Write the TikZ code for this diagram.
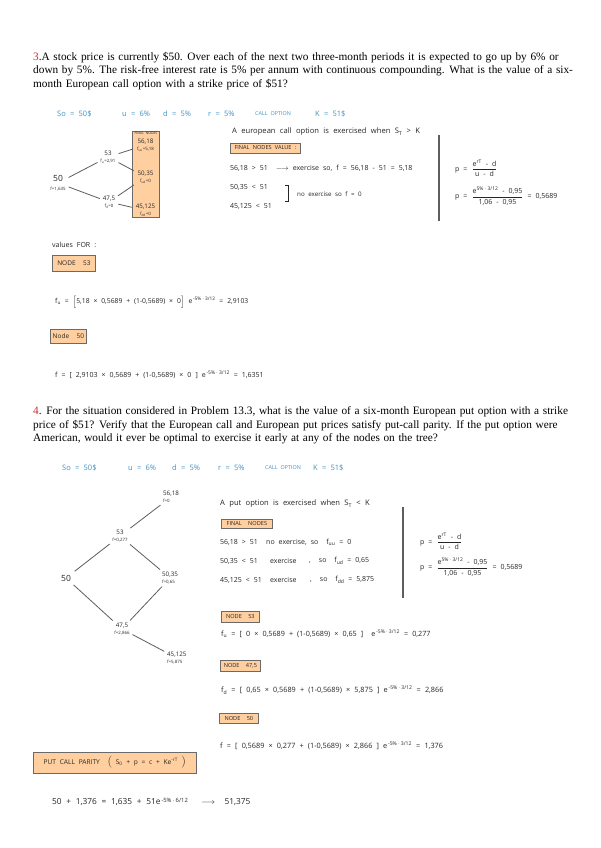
\documentclass[tikz,border=0pt]{standalone}
\usepackage{amsmath,amssymb}
\usepackage{fontspec}
\setmainfont{Liberation Serif}[WordSpace=1.3]
\newfontfamily\handfont[WordSpace=2.2]{Open Sans}
\usepackage{xcolor}
\usepackage{tikz}
\usetikzlibrary{positioning}
\definecolor{numred}{HTML}{D9262B}
\definecolor{givenblue}{HTML}{3F93C4}
\definecolor{tagfill}{HTML}{FFCFA0}
\definecolor{tagdraw}{HTML}{6A6A6A}
\definecolor{inkgray}{HTML}{262626}
\definecolor{branchgray}{HTML}{5E5E5E}
\tikzset{
  question line/.style={
    anchor=base west,
    inner sep=0pt,
    font=\fontsize{11.3}{13.6}\selectfont,
    text=black
  },
  given/.style={
    anchor=west,
    inner sep=0pt,
    font=\handfont\fontsize{7.5}{8}\selectfont,
    text=givenblue
  },
  given small/.style={
    given,
    font=\handfont\fontsize{5.4}{6}\selectfont
  },
  note/.style={
    anchor=west,
    inner sep=0pt,
    font=\handfont\fontsize{7}{8}\selectfont,
    text=inkgray
  },
  rule note/.style={
    note,
    font=\handfont\fontsize{7.6}{8}\selectfont
  },
  tree value/.style={
    inner sep=1pt,
    align=center,
    font=\handfont\fontsize{6.2}{6.8}\selectfont,
    text=inkgray
  },
  tree root/.style={
    tree value,
    font=\handfont\fontsize{8.5}{9}\selectfont
  },
  tag/.style={
    anchor=west,
    draw=tagdraw,
    fill=tagfill,
    line width=0.8pt,
    inner sep=1pt,
    font=\handfont\fontsize{5.6}{6}\selectfont,
    text=inkgray
  },
  final box/.style={
    draw=tagdraw,
    fill=tagfill,
    line width=0.8pt,
    minimum width=27,
    minimum height=86,
    inner sep=0pt
  },
  branch/.style={
    draw=branchgray,
    line width=0.8pt,
    shorten <=2pt,
    shorten >=2pt
  },
  divider/.style={
    draw=branchgray,
    line width=1.1pt
  }
}
\newcommand{\flab}[1]{{\fontsize{4.4}{5}\selectfont #1}}
\newcommand{\hfrac}[2]{$\dfrac{\text{#1}}{\text{#2}}$}
\newcommand{\discount}[1]{e\textsuperscript{\,-5\%\,$\cdot$\,#1}}

\begin{document}
\begin{tikzpicture}[x=1pt,y=-1pt]
  \useasboundingbox[fill=white] (0,0) rectangle (600,848);

  \node[question line] (q3-1) at (33,60.5) {\textcolor{numred}{3}.A stock price is currently \$50. Over each of the next two three-month periods it is expected to go up by 6\% or};
  \node[question line] (q3-2) at (33,74) {down by 5\%. The risk-free interest rate is 5\% per annum with continuous compounding. What is the value of a six-};
  \node[question line] (q3-3) at (33,87.5) {month European call option with a strike price of \$51?};

  \node[given] (g1-s) at (57,114) {So = 50\$};
  \node[given] (g1-u) at (122,114) {u = 6\%};
  \node[given] (g1-d) at (163,114) {d = 5\%};
  \node[given] (g1-r) at (208,114) {r = 5\%};
  \node[given small] (g1-c) at (255,114) {CALL OPTION};
  \node[given] (g1-k) at (315,114) {K = 51\$};

  \node[final box] (T1-box) at (145.5,174) {};
  \node[font=\handfont\fontsize{3.4}{4}\selectfont,text=inkgray,inner sep=0pt] (T1-head) at (146,133.5) {FINAL NODES};
  \node[tree root] (T1-0) at (58,183) {50\\\flab{f=1,635}};
  \node[tree value] (T1-u) at (108,157) {53\\\flab{f\textsubscript{u}=2,91}};
  \node[tree value] (T1-d) at (109,202) {47,5\\\flab{f\textsubscript{d}=0}};
  \node[tree value] (T1-uu) at (145.5,145) {56,18\\\flab{f\textsubscript{uu}=5,18}};
  \node[tree value] (T1-ud) at (145.5,177) {50,35\\\flab{f\textsubscript{ud}=0}};
  \node[tree value] (T1-dd) at (145.5,210.5) {45,125\\\flab{f\textsubscript{dd}=0}};
  \draw[branch] (T1-0) -- (T1-u);
  \draw[branch] (T1-0) -- (T1-d);
  \draw[branch,shorten >=3pt] (T1-u) -- (T1-uu);
  \draw[branch,shorten >=3pt] (T1-u) -- (T1-ud);
  \draw[branch,shorten >=3pt] (T1-d) -- (T1-ud);
  \draw[branch,shorten >=3pt] (T1-d) -- (T1-dd);

  \node[rule note] (n1-rule) at (232,132) {A european call option is exercised when S\textsubscript{T} > K};
  \node[tag,minimum width=70,minimum height=10] (tag-final1) at (230,148) {FINAL NODES VALUE :};
  \node[note] (n1-uu) at (230,168) {56,18 > 51 \ $\longrightarrow$\ exercise so, f = 56,18 - 51 = 5,18};
  \node[note] (n1-ud) at (230,187) {50,35 < 51};
  \node[note] (n1-dd) at (230,206) {45,125 < 51};
  \draw[inkgray,line width=0.7pt] (285,185) -- (288,185) -- (288,201) -- (285,201);
  \node[note,font=\handfont\fontsize{6.2}{7}\selectfont] (n1-no) at (297,194) {no exercise so f = 0};
  \draw[divider] (439,135) -- (439,221);
  \node[note] (p1-a) at (455,168) {p = \hfrac{e\textsuperscript{rT} - d}{u - d}};
  \node[note] (p1-b) at (455,196) {p = \hfrac{e\textsuperscript{5\%\,$\cdot$\,3/12} - 0,95}{1,06 - 0,95} = 0,5689};

  \node[note] (n1-vals) at (52,245) {values FOR :};
  \node[tag,minimum width=43,minimum height=16,font=\handfont\fontsize{6.5}{7}\selectfont] (tag-n53a) at (52,263) {NODE \ 53};
  \node[note,font=\handfont\fontsize{6.8}{8}\selectfont] (f1-u) at (55,302) {f\textsubscript{u} = $\Big[$5,18 × 0,5689 + (1-0,5689) × 0$\Big]$ \discount{3/12} = 2,9103};
  \node[tag,minimum width=36,minimum height=14,font=\handfont\fontsize{6.5}{7}\selectfont] (tag-n50a) at (50,336) {Node \ 50};
  \node[note,font=\handfont\fontsize{7}{8}\selectfont] (f1-0) at (55,375) {f = [ 2,9103 × 0,5689 + (1-0,5689) × 0 ] \discount{3/12} = 1,6351};

  \node[question line] (q4-1) at (33,414.5) {\textcolor{numred}{4}. For the situation considered in Problem 13.3, what is the value of a six-month European put option with a strike};
  \node[question line] (q4-2) at (33,428) {price of \$51? Verify that the European call and European put prices satisfy put-call parity. If the put option were};
  \node[question line] (q4-3) at (33,441.5) {American, would it ever be optimal to exercise it early at any of the nodes on the tree?};

  \node[given] (g2-s) at (62,468) {So = 50\$};
  \node[given] (g2-u) at (128,468) {u = 6\%};
  \node[given] (g2-d) at (172,468) {d = 5\%};
  \node[given] (g2-r) at (218,468) {r = 5\%};
  \node[given small] (g2-c) at (265,468) {CALL OPTION};
  \node[given] (g2-k) at (313,468) {K = 51\$};

  \node[tree root] (T2-0) at (66,578) {50};
  \node[tree value] (T2-u) at (120,536) {53\\\flab{f=0,277}};
  \node[tree value,align=left,anchor=west] (T2-uu) at (162,497) {56,18\\\flab{f=0}};
  \node[tree value,align=left,anchor=west] (T2-ud) at (161,578) {50,35\\\flab{f=0,65}};
  \node[tree value] (T2-d) at (122,629) {47,5\\\flab{f=2,866}};
  \node[tree value,align=left,anchor=west] (T2-dd) at (166,658) {45,125\\\flab{f=5,875}};
  \draw[branch,shorten <=4pt] (T2-0) -- (T2-u);
  \draw[branch,shorten <=4pt] (T2-0) -- (T2-d);
  \draw[branch] (T2-u) -- (T2-uu);
  \draw[branch] (T2-u) -- (T2-ud);
  \draw[branch] (T2-d) -- (T2-ud);
  \draw[branch] (T2-d) -- (T2-dd);

  \node[rule note] (n2-rule) at (220,504) {A put option is exercised when S\textsubscript{T} < K};
  \node[tag,minimum width=51,minimum height=9] (tag-final2) at (221,523.5) {FINAL \ NODES};
  \node[note] (n2-uu) at (220,542) {56,18 > 51};
  \node[note] (n2-uu-x) at (266,542) {no exercise, so \ f\textsubscript{uu} = 0};
  \node[note] (n2-ud) at (220,561) {50,35 < 51};
  \node[note] (n2-ud-x) at (270,561) {exercise};
  \node[note] (n2-ud-f) at (309,561) {, \ so \ f\textsubscript{ud} = 0,65};
  \node[note] (n2-dd) at (220,580) {45,125 < 51};
  \node[note] (n2-dd-x) at (270,580) {exercise};
  \node[note] (n2-dd-f) at (310,580) {, \ so \ f\textsubscript{dd} = 5,875};
  \draw[divider] (403,507) -- (403,598);
  \node[note] (p2-a) at (420,541) {p = \hfrac{e\textsuperscript{rT} - d}{u - d}};
  \node[note] (p2-b) at (420,567) {p = \hfrac{e\textsuperscript{5\%\,$\cdot$\,3/12} - 0,95}{1,06 - 0,95} = 0,5689};

  \node[tag,minimum width=38,minimum height=11] (tag-n53b) at (221,616.5) {NODE \ 53};
  \node[note,font=\handfont\fontsize{7.2}{8}\selectfont] (f2-u) at (221,634) {f\textsubscript{u} = [ 0 × 0,5689 + (1-0,5689) × 0,65 ] \ \discount{3/12} = 0,277};
  \node[tag,minimum width=40,minimum height=11] (tag-n47b) at (220,665.5) {NODE \ 47,5};
  \node[note,font=\handfont\fontsize{7.3}{8}\selectfont] (f2-d) at (221,690) {f\textsubscript{d} = [ 0,65 × 0,5689 + (1-0,5689) × 5,875 ] \discount{3/12} = 2,866};
  \node[tag,minimum width=39,minimum height=10] (tag-n50b) at (219,718) {NODE \ 50};
  \node[note,font=\handfont\fontsize{7.3}{8}\selectfont] (f2-0) at (220,746) {f = [ 0,5689 × 0,277 + (1-0,5689) × 2,866 ] \discount{3/12} = 1,376};

  \node[tag,minimum width=163,minimum height=21,font=\handfont\fontsize{6.6}{7}\selectfont] (tag-parity) at (33,762.5) {PUT CALL PARITY \ $\Big($ S\textsubscript{0} + p = c + Ke\textsuperscript{-rT} $\Big)$};
  \node[note,font=\handfont\fontsize{8.3}{9}\selectfont] (parity-eq) at (52,802) {50 + 1,376 = 1,635 + 51e\textsuperscript{\,-5\%\,$\cdot$\,6/12} \quad $\longrightarrow$ \ 51,375};
\end{tikzpicture}
\end{document}
